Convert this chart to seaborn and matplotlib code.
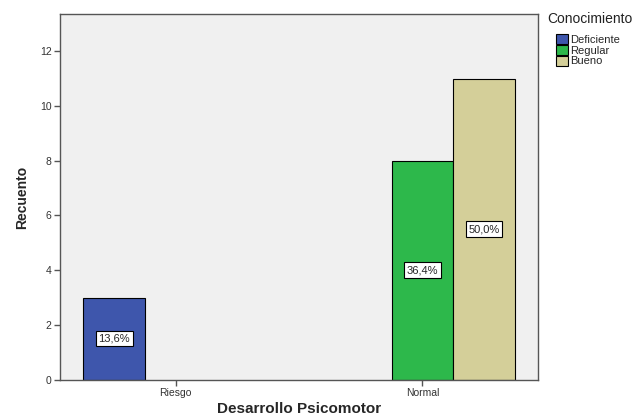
import pandas as pd
import numpy as np
import matplotlib
matplotlib.use('Agg')
import matplotlib.pyplot as plt
import seaborn as sns

# Datos
desarrollo = ['Riesgo', 'Normal']
conocimiento = ['Deficiente', 'Regular', 'Bueno']
grupo_desarrollo = ['Riesgo', 'Normal', 'Normal']
grupo_conocimiento = ['Deficiente', 'Regular', 'Bueno']
recuento = [3, 8, 11]
porcentajes = ['13,6%', '36,4%', '50,0%']

colores = ['#3e56ac', '#2db84b', '#d4cf99']

df = pd.DataFrame({'Desarrollo': grupo_desarrollo,
                   'Conocimiento': grupo_conocimiento,
                   'Recuento': recuento,
                   'Porcentaje': porcentajes})

sns.set_style('white')
plt.rcParams['font.family'] = ['Liberation Sans', 'DejaVu Sans']

fig = plt.figure(figsize=(6.37, 4.16), dpi=100)
ax = fig.add_axes([0.094, 0.087, 0.751, 0.879])
ax.set_facecolor('#f0f0f0')

sns.barplot(data=df, x='Desarrollo', y='Recuento', hue='Conocimiento',
            order=desarrollo, hue_order=conocimiento, palette=colores,
            saturation=1, width=0.75, edgecolor='black', linewidth=0.8, ax=ax)

# etiquetas de porcentaje en el centro de cada barra
for cont, nivel in zip(ax.containers, conocimiento):
    sub = df[df['Conocimiento'] == nivel]
    barras = [b for b in cont.patches if b is not None and b.get_height() > 0]
    for b, p in zip(barras, sub['Porcentaje']):
        ax.text(b.get_x() + b.get_width() / 2, b.get_height() / 2, p,
                ha='center', va='center', fontsize=8,
                bbox=dict(boxstyle='square,pad=0.25', fc='white', ec='black', lw=0.8))

ax.set_xlim(-0.47, 1.47)
ax.set_ylim(0, 13.35)
ax.set_yticks([0, 2, 4, 6, 8, 10, 12])

for s in ax.spines.values():
    s.set_color('#555555')
    s.set_linewidth(1)

ax.tick_params(axis='both', which='both', direction='out', length=4, width=1,
               color='#555555', labelsize=7.5, labelcolor='#333333',
               bottom=True, left=True, pad=2)

ax.set_xlabel('Desarrollo Psicomotor', fontsize=11, fontweight='bold', labelpad=3)
ax.set_ylabel('Recuento', fontsize=10, fontweight='bold', labelpad=8)

# leyenda fuera del área, con el título aparte
handles, labels = ax.get_legend_handles_labels()
ax.legend(handles, labels, loc='upper left',
          bbox_to_anchor=(556 / 637, 1 - 34 / 416), bbox_transform=fig.transFigure,
          frameon=False, fontsize=8, handlelength=1.1, handleheight=1.0,
          handletextpad=0.2, labelspacing=0.0, borderaxespad=0, borderpad=0)
fig.text(547 / 637, 1 - 19 / 416, 'Conocimiento', fontsize=10, ha='left', va='center',
         color='#222222')

fig.savefig('out.png', dpi=100)
